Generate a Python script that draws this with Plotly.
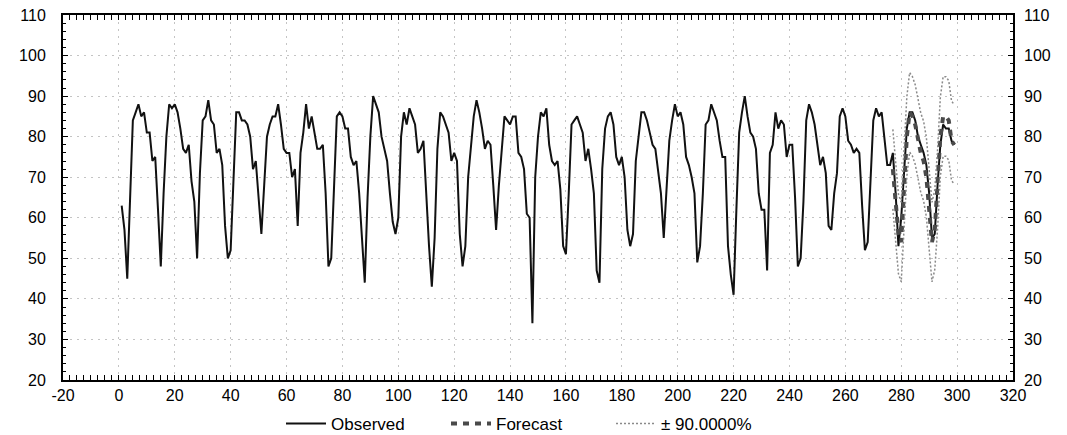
import plotly.graph_objects as go

observed = [
    63, 57, 45, 66, 84, 86, 88, 85, 86, 81, 81, 74, 75, 62, 48, 66, 80, 88, 87, 88,
    86, 82, 77, 76, 78, 69, 64, 50, 71, 84, 85, 89, 84, 83, 76, 77, 73, 58, 50, 52,
    70, 86, 86, 84, 84, 83, 80, 72, 74, 66, 56, 68, 80, 83, 85, 85, 88, 83, 77, 76,
    76, 70, 72, 58, 76, 81, 88, 82, 85, 81, 77, 77, 78, 66, 48, 50, 68, 85, 86, 85,
    82, 82, 75, 73, 74, 66, 55, 44, 65, 80, 90, 88, 86, 80, 77, 74, 66, 59, 56, 60,
    80, 86, 83, 87, 85, 83, 76, 77, 79, 64, 53, 43, 55, 77, 86, 85, 83, 81, 74, 76,
    74, 56, 48, 53, 70, 78, 85, 89, 86, 82, 77, 79, 78, 68, 57, 68, 77, 85, 84, 83,
    85, 85, 76, 75, 72, 61, 60, 34, 70, 80, 86, 85, 87, 78, 74, 73, 74, 67, 53, 51,
    66, 83, 84, 85, 83, 81, 74, 77, 72, 66, 47, 44, 72, 82, 85, 86, 83, 75, 73, 75,
    70, 57, 53, 56, 74, 80, 86, 86, 84, 81, 78, 77, 71, 66, 55, 67, 79, 84, 88, 85,
    86, 83, 75, 73, 70, 66, 49, 53, 66, 83, 84, 88, 86, 84, 79, 75, 75, 53, 46, 41,
    62, 81, 86, 90, 85, 81, 80, 77, 66, 62, 62, 47, 76, 78, 86, 82, 84, 83, 75, 78,
    78, 65, 48, 50, 64, 84, 88, 86, 83, 78, 73, 75, 71, 58, 57, 66, 71, 85, 87, 85,
    79, 78, 76, 77, 76, 63, 52, 54, 68, 84, 87, 85, 86, 80, 73, 73, 76, 66, 53, 60,
    71, 82, 86, 86, 84, 80, 78, 76, 73, 66, 55, 56, 68, 78, 83, 82, 82, 79, 78,
]
obs_x = list(range(1, len(observed) + 1))

forecast = [72, 63, 56, 54, 66, 80, 86, 85, 83, 79, 76, 74, 70, 62, 54, 57, 67, 80, 85, 85, 84, 79, 78]
upper = [81.8, 72.8, 65.8, 63.8, 75.8, 89.8, 95.8, 94.8, 92.8, 88.8, 85.8, 83.8, 79.8, 71.8,
         63.8, 66.8, 76.8, 89.8, 94.8, 94.8, 93.8, 88.8, 87.8]
lower = [62.2, 53.2, 46.2, 44.2, 56.2, 70.2, 76.2, 75.2, 73.2, 69.2, 66.2, 64.2, 60.2, 52.2,
         44.2, 47.2, 57.2, 70.2, 75.2, 75.2, 74.2, 69.2, 68.2]
fc_x = list(range(277, 277 + len(forecast)))

x_ticks = [-20, 0, 20, 40, 60, 80, 100, 120, 140, 160, 180, 200, 220, 240, 260, 280, 300, 320]
x_tick_labels = ["-20", "0", "20", "40", "60", "80", "100", "120", "140", "160", "180",
                 "200", "220", "240", "260", "280", "300", "320"]
y_ticks = [20, 30, 40, 50, 60, 70, 80, 90, 100, 110]

band_label = "± 90.0000%"

fig = go.Figure()
fig.add_trace(go.Scatter(x=obs_x, y=observed, mode="lines", name="Observed",
                         line=dict(color="#111111", width=2)))
fig.add_trace(go.Scatter(x=fc_x, y=forecast, mode="lines", name="Forecast",
                         line=dict(color="#4a4a4a", width=4, dash="6px,6px")))
fig.add_trace(go.Scatter(x=fc_x, y=upper, mode="lines", name=band_label, legendgroup="band",
                         line=dict(color="#8a8a8a", width=1.5, dash="2px,2px")))
fig.add_trace(go.Scatter(x=fc_x, y=lower, mode="lines", name=band_label, legendgroup="band",
                         showlegend=False,
                         line=dict(color="#8a8a8a", width=1.5, dash="2px,2px")))
# anchor trace for the mirrored right axis
fig.add_trace(go.Scatter(x=[None], y=[None], yaxis="y2", showlegend=False, hoverinfo="skip"))

font = dict(family="Liberation Sans, Arial, sans-serif", size=16, color="#000000")

fig.update_layout(
    width=1067, height=435,
    margin=dict(l=63, r=54, t=15, b=55, autoexpand=False),
    paper_bgcolor="white", plot_bgcolor="white",
    font=font,
    showlegend=True,
    legend=dict(orientation="h", x=0.49, xanchor="center", y=-0.071, yanchor="top",
                font=dict(family="Liberation Sans, Arial, sans-serif", size=17),
                itemwidth=40, entrywidth=110, entrywidthmode="pixels",
                bgcolor="rgba(0,0,0,0)"),
    xaxis=dict(range=[-20, 320], tickmode="array", tickvals=x_ticks, ticktext=x_tick_labels,
               showline=True, linecolor="black",
               linewidth=2, mirror="allticks", ticks="inside", ticklen=5, tickcolor="black",
               showgrid=True, gridcolor="#c4c4c4", griddash="2px,5px", gridwidth=1,
               zeroline=False, tickfont=font,
               minor=dict(ticks="inside", ticklen=3, dtick=2.5, tick0=0, tickcolor="black",
                          showgrid=False)),
    yaxis=dict(range=[20, 110], tickmode="array", tickvals=y_ticks, showline=True,
               linecolor="black", linewidth=2,
               mirror="allticks", ticks="inside", ticklen=5, tickcolor="black",
               showgrid=True, gridcolor="#c4c4c4", griddash="2px,5px", gridwidth=1,
               zeroline=False, tickfont=font, ticklabelstandoff=12,
               minor=dict(ticks="inside", ticklen=3, dtick=2, tick0=0, tickcolor="black",
                          showgrid=False)),
    yaxis2=dict(range=[20, 110], tickmode="array", tickvals=y_ticks, overlaying="y",
                side="right", showgrid=False, zeroline=False, showline=False, ticks="",
                tickfont=font, ticklabelstandoff=10),
)

# remove the default 8px page margin so the figure sits at the window's top-left corner
fig.write_html("out.html", config={"displayModeBar": False},
               post_script="document.body.style.margin='0px';")
